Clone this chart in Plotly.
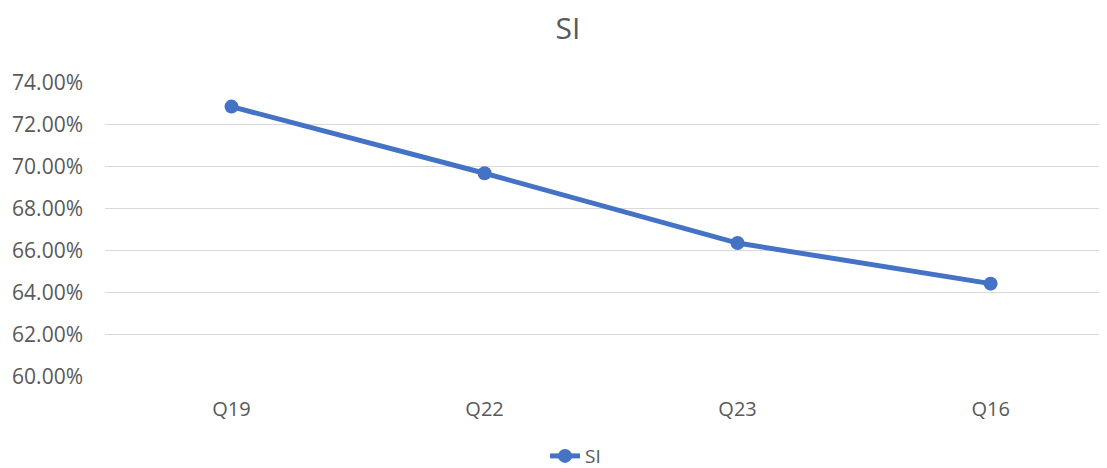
import plotly.graph_objects as go

categories = ["Q19", "Q22", "Q23", "Q16"]
si_values = [72.85, 69.68, 66.36, 64.43]
tick_values = [60, 62, 64, 66, 68, 70, 72, 74]
tick_labels = ["60.00%", "62.00%", "64.00%", "66.00%", "68.00%", "70.00%", "72.00%", "74.00%"]

FONT = "Open Sans"
GREY = "#595959"
BLUE = "#4472C4"

# page body has an 8px margin; figure is sized to end at the window edge
W, H = 1099, 460

fig = go.Figure()
fig.add_trace(go.Scatter(
    x=list(range(len(categories))), y=si_values, name="SI",
    mode="lines+markers",
    line=dict(color=BLUE, width=5),
    marker=dict(color=BLUE, size=14),
))

fig.update_layout(
    width=W, height=H,
    paper_bgcolor="white", plot_bgcolor="white",
    margin=dict(l=97, r=0, t=74, b=91, autoexpand=False),
    title=dict(text="SI", x=560 / W, xref="container", xanchor="center",
               y=1 - 20 / H, yref="container", yanchor="middle",
               font=dict(family=FONT, size=30, color=GREY)),
    font=dict(family=FONT, size=21, color=GREY),
    showlegend=True,
    legend=dict(orientation="h", xref="container", yref="paper",
                x=537 / W, xanchor="left", y=-0.268, yanchor="middle",
                font=dict(family=FONT, size=19, color=GREY),
                bgcolor="rgba(0,0,0,0)"),
    xaxis=dict(
        tickmode="array", tickvals=list(range(len(categories))), ticktext=categories,
        range=[-0.5, 3.46], showgrid=False, zeroline=False, showline=False,
        ticks="", ticklen=0, tickfont=dict(family=FONT, size=20, color=GREY),
        ticklabelstandoff=18, fixedrange=True, automargin=False,
    ),
    yaxis=dict(
        tickmode="array", tickvals=tick_values, ticktext=tick_labels,
        range=[59.99, 74.02], showgrid=True, gridcolor="#D9D9D9", gridwidth=1.3,
        zeroline=False, showline=False, ticks="",
        tickfont=dict(family=FONT, size=21, color=GREY),
        ticklabelstandoff=21, fixedrange=True, automargin=False,
    ),
)

fig.write_html("out.html")
